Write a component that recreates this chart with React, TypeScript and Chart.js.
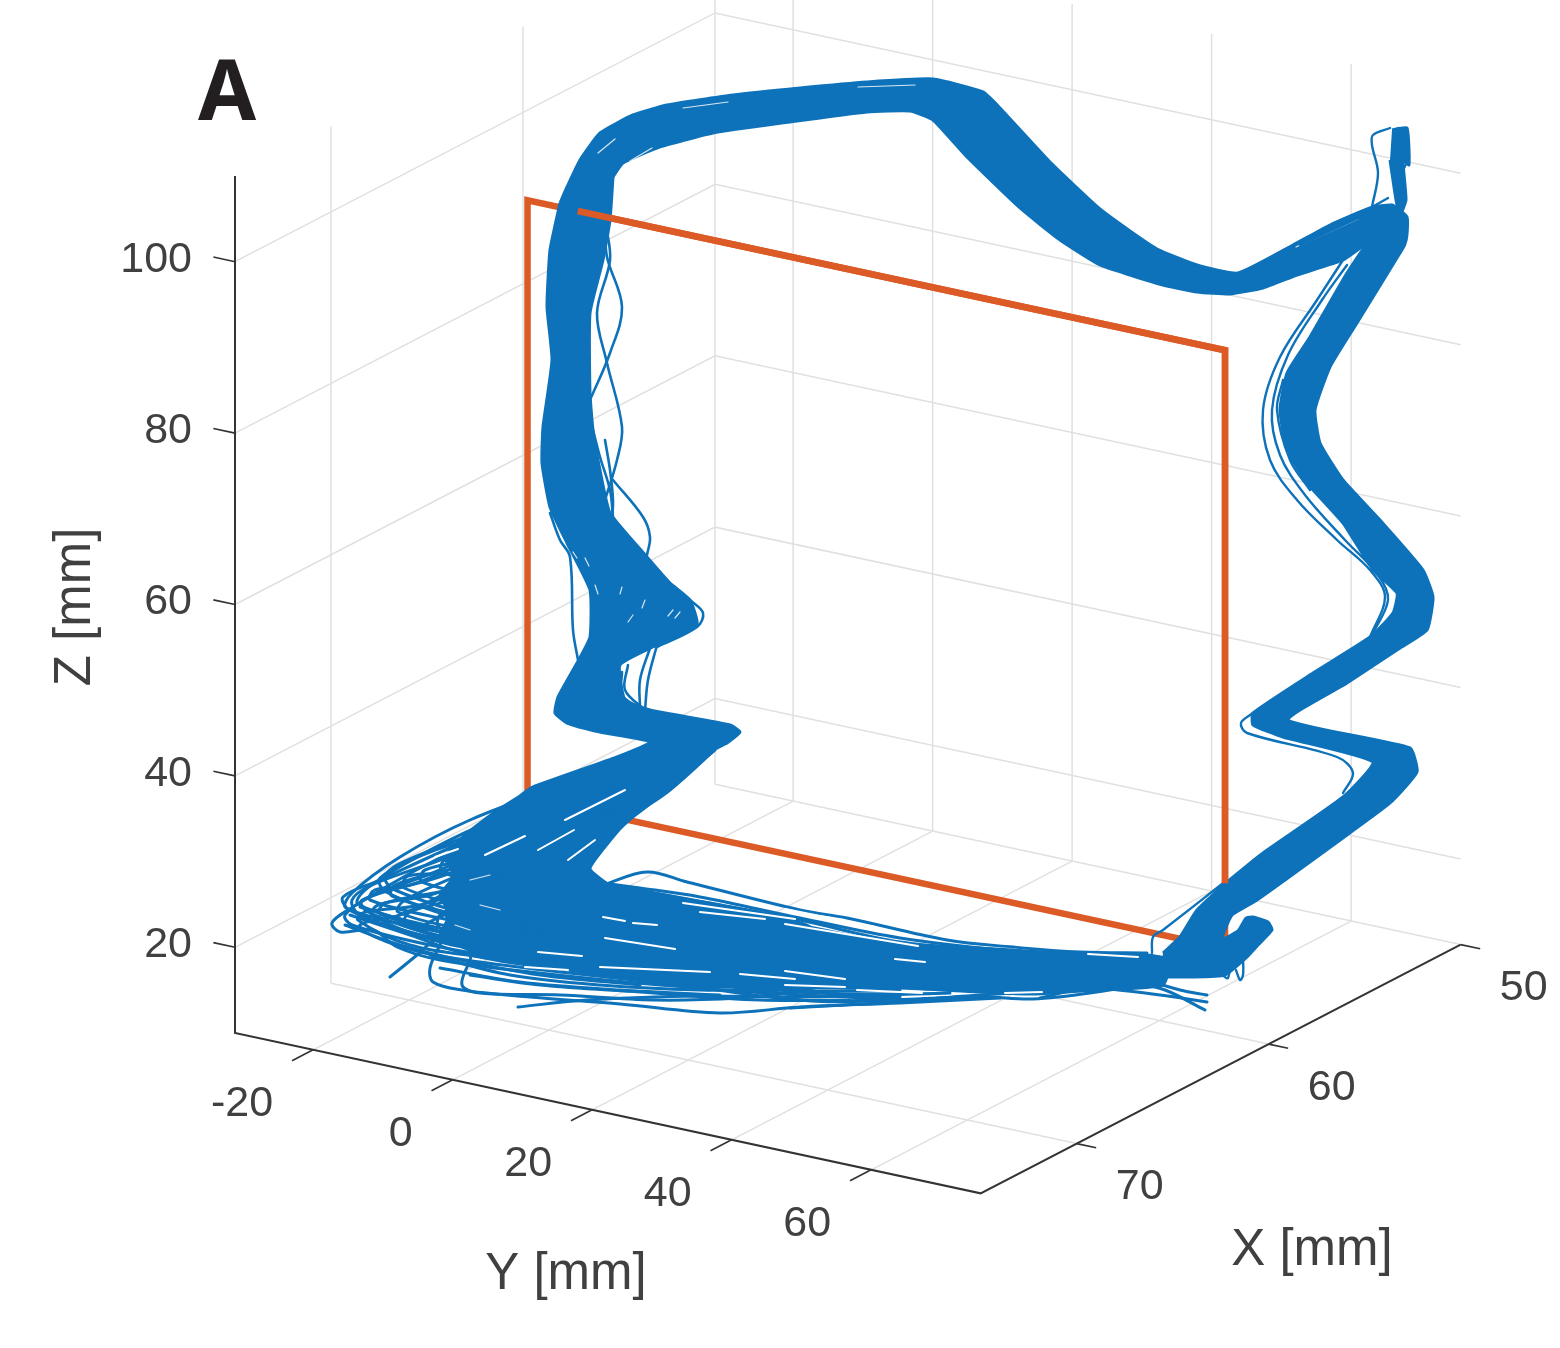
import React, { useEffect, useRef } from "react";
import { Chart, registerables } from "chart.js";

Chart.register(...registerables);

// ---- axis values (mm) ----
const xTicks = [50, 60, 70];
const yTicks = [-20, 0, 20, 40, 60];
const zTicks = [20, 40, 60, 80, 100];
const xRange = [50, 75];
const yRange = [-31.2, 75.7];
const zRange = [10, 110];
// target frame, in mm
const frameX = 60.2;
const frameY = [-30, 70];
const frameZ = [20.4, 90.2];
const frameFrontFromY = -22.8;

// ---- the 3-D view of the box ----
const view = { x0: 235, y0: 1033, yx: 6.975, yy: 1.5, xx: 19.2, xy: 9.95, zy: 8.57 };
const project = (X: number, Y: number, Z: number) => ({
  x: view.x0 + view.yx * (Y - yRange[0]) + view.xx * (xRange[1] - X),
  y: view.y0 + view.yy * (Y - yRange[0]) - view.xy * (xRange[1] - X) - view.zy * (Z - zRange[0]),
});

// ---- trajectories: a single view gives no depth,
//      so they are kept as view-plane pairs (horizontal, vertical) ----
const bandTop = [560,203,567,187,580,160,600,133,633,115,667,105,733,95,800,88,867,82,933,79,983,92,1000,108,1050,162,1100,209,1130,231,1157,249,1197,265,1238,273,1293,245,1330,225,1370,208,1392,205,1407,217,1405,243,1373,240,1343,260,1297,275,1263,288,1230,294,1197,292,1163,285,1130,275,1100,265,1060,240,1020,208,967,157,933,120,910,111,867,112,790,122,713,133,657,148,623,163,613,177,590,215];
const bandLeft = [560,203,550,250,547,307,552,360,543,427,542,463,550,507,567,543,590,590,590,637,577,663,558,697,555,713,567,723,600,732,650,742,617,757,533,787,520,797,560,810,627,820,713,750,727,743,740,732,730,725,650,710,625,700,620,665,657,645,697,625,690,600,670,583,647,557,610,513,600,470,593,430,590,393,590,313,603,260,610,220,613,177];
const bandRight = [1163,953,1180,937,1197,910,1227,882,1263,853,1343,797,1373,762,1283,737,1253,725,1253,713,1313,673,1370,637,1393,613,1397,593,1373,570,1343,523,1307,483,1287,450,1280,410,1287,373,1310,337,1347,273,1373,238,1405,243,1400,253,1357,323,1330,367,1315,410,1320,443,1343,480,1380,520,1423,570,1433,597,1427,630,1397,650,1347,683,1288,720,1410,748,1417,772,1390,803,1347,835,1257,900,1232,915,1222,939,1238,931,1246,918,1253,917,1268,922,1272,930,1258,945,1246,958,1225,975,1190,977,1160,977];
const bandBottom = [800,925,900,945,960,947,1013,950,1080,954,1147,955,1170,960,1163,985,1097,990,1033,994,980,992,900,988,800,988];
const bandFan = [533,788,495,812,465,835,445,858,455,875,440,895,450,915,440,935,470,950,520,960,600,975,680,985,760,988,810,988,810,927,720,905,660,895,610,885,590,868,627,820];
const tuftTop = [1392,130,1407,128,1409,165,1403,160,1406,200,1400,215,1396,200,1390,160];

const fanTraces = [
  [655,760,560,787,470,820,400,857,352,893,346,908,420,935,520,952,650,968,800,982],
  [665,760,570,792,480,826,412,860,365,890,358,904,430,926,530,946,660,962,800,975],
  [675,758,585,795,495,832,420,868,348,910,332,923,340,932,373,930,397,947,440,960,530,972,660,985,800,995,900,998],
  [680,758,595,795,505,830,430,852,380,878,386,892,470,922,570,942,680,958,800,970],
  [685,755,600,797,510,838,435,872,372,896,345,915,352,925,430,945,530,962,660,978,800,990],
  [690,755,605,800,520,842,445,875,362,900,368,912,450,940,550,958,670,972,800,985],
  [695,752,610,803,530,845,455,868,395,885,392,896,480,920,580,938,690,950,800,962],
  [700,750,615,806,540,848,465,872,408,876,404,888,490,912,590,930,700,942,800,955],
  [700,755,620,808,545,852,470,885,385,903,380,914,470,938,575,955,690,968,800,980],
  [705,750,625,806,550,838,480,858,425,870,422,882,505,902,600,922,700,935,800,948],
  [708,748,630,802,560,832,495,852,445,860,442,872,520,892,610,912,710,925,800,940],
  [690,760,615,815,540,862,470,895,410,912,405,924,480,945,590,965,700,978,800,992,900,994],
  [700,758,620,820,550,868,480,900,425,925,430,935,510,950,610,968,710,982,800,1000,880,1001,980,996],
  [710,752,630,815,565,858,510,880,450,905,448,918,530,935,630,950,730,965,800,972],
  [715,750,640,810,580,845,530,870,475,890,472,902,550,920,650,935,740,950,800,958],
  [715,745,650,795,600,835,560,860,505,878,503,890,580,905,670,920,750,935,800,944],
  [720,740,660,790,620,825,585,852,540,868,545,880,620,895,700,910,760,920,800,928,900,946],
  [720,745,670,790,625,822,580,870,590,880,650,892,720,905,800,920,900,942,1000,950],
  [650,775,555,830,470,880,400,915,360,925,375,937,420,952,480,962,560,972,680,985,800,1000,880,1000,960,997],
  [660,775,570,830,490,880,420,905,365,912,358,920,410,945,490,958,590,972,700,982,800,995,900,996],
  [672,770,580,825,500,870,430,895,378,905,372,915,440,942,520,955,620,968,730,978,800,985],
  [640,780,550,820,470,860,410,885,375,890,370,900,440,918,540,935,650,952,800,968],
  [690,760,600,830,500,900,440,935,417,955,390,977],
  [680,765,590,835,510,890,450,925,440,945,430,968,433,982,462,990,530,997,620,1004,720,1013,800,1007,900,1003,1000,998],
  [700,760,610,830,530,895,480,930,470,960,462,985,480,993,560,995,653,1000,740,998,800,992,900,990],
  [518,1007,587,1000,700,996,800,997,950,993],
  [603,885,647,872,687,882,800,910,847,918,947,940,1013,947,1080,952,1147,953],
  [580,880,640,888,700,897,800,918,900,938,1000,950,1100,957],
  [560,895,620,905,700,912,790,930,880,948,1000,960],
  [780,985,880,1000,980,995,1060,990,1120,985],
  [790,1008,880,1003,980,997,1033,999,1097,992,1147,983],
  [760,975,860,985,960,985,1060,985],
  [1040,998,1100,985,1140,985,1165,990,1205,1010],
  [1100,988,1160,995,1207,1002],
  [1130,975,1180,990,1207,995],
  [610,790,530,810,470,835,397,865,385,878,395,890,470,915,560,935,650,945],
  [600,795,520,820,450,848,380,880,343,897,350,910,430,930,520,945,620,958],
  [595,800,510,830,440,860,372,885,352,900,360,915,440,940,520,958,610,975],
  [620,800,540,835,470,870,405,900,398,912,475,932,560,948,640,960],
  [625,810,560,850,500,880,440,898,432,908,505,925,600,945],
  [615,815,550,855,490,890,440,915,440,928,520,942,620,955],
  [630,805,575,840,520,870,470,878,465,890,540,905,630,925],
  [600,825,540,870,495,900,480,915,560,930,650,945],
  [635,815,590,855,550,885,510,905,515,918,590,932,680,945],
  [345,925,400,945,460,960,540,975,640,985],
  [350,915,410,935,470,955,550,968,650,978],
  [360,907,420,925,480,945,560,960,650,972],
  [430,955,510,975,600,985,700,990,800,990],
  [440,968,520,982,620,990,720,995],
  [470,975,540,985,640,992,760,1000,850,1000],
];
const columnTraces = [
  [605,225,607,257,622,307,610,353,590,400],
  [606,225,610,260,597,313,607,363,622,427,617,460,605,500],
  [613,480,643,517,650,537,647,555],
  [550,513,560,540,570,557,573,630,578,660],
  [657,645,648,680,645,710],
  [650,648,640,680,640,708],
  [628,665,625,690,645,710],
  [622,672,622,695,640,708],
  [593,430,600,457,610,490,613,517],
  [605,440,610,470,613,500,612,520],
  [690,600,703,613,697,627,657,647],
];
const rightTraces = [
  [1343,260,1317,300,1280,357,1263,410,1270,460,1297,500,1337,540,1370,570,1385,597,1370,637],
  [1347,265,1322,300,1288,355,1272,410,1280,455,1305,495,1345,540,1378,575,1388,600,1372,635],
  [1283,380,1277,410,1290,460,1310,490],
  [1253,713,1241,723,1247,733,1337,757,1353,773,1343,793],
  [1227,880,1163,930,1153,937,1152,953],
  [1388,198,1370,208,1293,245],
  [1392,205,1370,213,1300,245],
  [1372,207,1378,173,1372,145,1373,135,1390,128],
  [1243,957,1243,975,1240,980,1236,970],
  [1230,960,1228,978,1222,975],
  [1398,128,1396,150,1404,135,1402,160,1408,145,1398,175,1402,205],
  [1406,128,1400,138,1409,155,1403,172,1405,190],
];
// places inside the bundles where the lines leave the paper showing
const gapTraces = [
  [485,855,525,836],[435,857,458,849],[565,820,625,790],[538,850,574,830],[568,860,595,840],
  [605,938,675,949],[603,917,625,921],[633,923,657,925],[683,903,795,919],[700,912,765,919],
  [740,974,795,979],[600,967,710,972],[538,952,582,956],[525,967,568,970],
  [785,924,918,946],[785,909,875,927],[857,990,922,993],[785,971,845,979],[785,985,845,987],
  [1005,993,1042,992],[895,959,925,962],[1088,954,1138,957],
];
const fineGapTraces = [
  [622,587,620,594],[645,600,642,608],[633,615,628,622],[673,610,668,616],[680,612,675,618],[595,585,598,594],[585,558,589,566],[573,552,577,558],
  [683,108,728,102],[858,87,915,85],[598,153,615,139],[630,161,652,148],[1296,247,1358,219],
  [480,905,500,910],[455,925,470,930],[470,880,490,875],
];

const BLUE = "#0d72ba";
const RED = "#dc5a26";
const GRID = "#e0e0e0";
const AXIS = "#333333";
const TEXT = "#404040";

const toPts = (a: number[]) => {
  const out: { x: number; y: number }[] = [];
  for (let i = 0; i < a.length; i += 2) out.push({ x: a[i], y: a[i + 1] });
  return out;
};
const seg = (pts: { x: number; y: number }[], color: string, width: number) => ({
  data: pts, borderColor: color, borderWidth: width, tension: 0, showLine: true, pointRadius: 0, fill: false,
  borderCapStyle: "butt" as const,
});
const trace = (a: number[], width: number, color = BLUE) => ({ ...seg(toPts(a), color, width), tension: 0.35, borderCapStyle: "round" as const });
const ribbon = (a: number[]) => ({
  ...seg(toPts(a), BLUE, 3), tension: 0.15, fill: "shape" as const, backgroundColor: BLUE,
});

function buildDatasets() {
  const [x0, x1] = xRange, [y0, y1] = yRange, [z0, z1] = zRange;
  const grid: any[] = [];
  for (const t of xTicks) {
    grid.push(seg([project(t, y0, z0), project(t, y1, z0)], GRID, 1.5));
    grid.push(seg([project(t, y0, z0), project(t, y0, z1)], GRID, 1.5));
  }
  for (const t of yTicks) {
    grid.push(seg([project(x1, t, z0), project(x0, t, z0)], GRID, 1.5));
    grid.push(seg([project(x0, t, z0), project(x0, t, z1)], GRID, 1.5));
  }
  for (const t of zTicks) {
    grid.push(seg([project(x1, y0, t), project(x0, y0, t), project(x0, y1, t)], GRID, 1.5));
  }
  const axes: any[] = [
    seg([project(x1, y0, z1), project(x1, y0, z0), project(x1, y1, z0), project(x0, y1, z0)], AXIS, 2),
  ];
  for (const t of zTicks) axes.push(seg([project(x1, y0, t), project(x1, y0 - 3.1, t)], AXIS, 1.6));
  for (const t of yTicks) axes.push(seg([project(x1, t, z0), project(x1 + 1.1, t, z0)], AXIS, 1.6));
  for (const t of xTicks) axes.push(seg([project(t, y1, z0), project(t, y1 + 2.8, z0)], AXIS, 1.6));

  const fx = frameX, [fy0, fy1] = frameY, [fz0, fz1] = frameZ;
  const frame = seg(
    [project(fx, fy0, fz0), project(fx, fy0, fz1), project(fx, fy1, fz1), project(fx, fy1, fz0), project(fx, fy0, fz0)],
    RED, 6.5,
  );
  const frameFront = seg([project(fx, frameFrontFromY, fz1), project(fx, fy1, fz1), project(fx, fy1, 28)], RED, 6.5);

  // the first dataset is painted last, so it is on top
  return [
    frameFront,
    ...rightTraces.map((a) => trace(a, 2.4)),
    ...columnTraces.map((a) => trace(a, 2.6)),
    ...gapTraces.map((a) => trace(a, 2, "#ffffff")),
    ...fineGapTraces.map((a) => trace(a, 1.2, "#d6e6f2")),
    ...fanTraces.map((a) => trace(a, 3)),
    ribbon(tuftTop),
    ribbon(bandTop),
    ribbon(bandLeft),
    ribbon(bandRight),
    ribbon(bandBottom),
    ribbon(bandFan),
    frame,
    ...axes,
    ...grid,
  ];
}

const textPlugin = {
  id: "boxText",
  afterDraw(chart: any) {
    const { ctx, scales } = chart;
    const px = (p: { x: number; y: number }) => ({ x: scales.x.getPixelForValue(p.x), y: scales.y.getPixelForValue(p.y) });
    ctx.save();
    ctx.fillStyle = TEXT;
    ctx.textBaseline = "middle";
    ctx.font = '43px "Liberation Sans"';
    ctx.textAlign = "right";
    for (const t of zTicks) {
      const p = px(project(xRange[1], yRange[0], t));
      ctx.fillText(String(t), p.x - 43, p.y - 2);
    }
    for (const t of yTicks) {
      const p = px(project(xRange[1], t, zRange[0]));
      ctx.fillText(String(t), p.x - 40, p.y + 54);
    }
    ctx.textAlign = "center";
    for (const t of xTicks) {
      const p = px(project(t, yRange[1], zRange[0]));
      ctx.fillText(String(t), p.x + 63, p.y + 44);
    }
    ctx.font = '51px "Liberation Sans"';
    ctx.fillText("Y [mm]", 566, 1275);
    ctx.fillText("X [mm]", 1312, 1251);
    ctx.save();
    ctx.translate(76, 607);
    ctx.rotate(-Math.PI / 2);
    ctx.fillText("Z [mm]", 0, 0);
    ctx.restore();
    ctx.fillStyle = "#231f20";
    ctx.font = 'bold 84px "Noto Sans"';
    ctx.fillText("A", 227, 96);
    ctx.restore();
  },
};

export default function App() {
  const ref = useRef<HTMLCanvasElement>(null);
  useEffect(() => {
    document.body.style.margin = "0";
    const chart = new Chart(ref.current as HTMLCanvasElement, {
      type: "scatter",
      data: { datasets: buildDatasets() as any },
      options: {
        animation: false,
        responsive: false,
        devicePixelRatio: 1,
        layout: { padding: 0 },
        plugins: { legend: { display: false }, tooltip: { enabled: false } },
        scales: {
          x: { type: "linear", min: 0, max: 1560, display: false },
          y: { type: "linear", min: 0, max: 1348, reverse: true, display: false },
        },
      },
      plugins: [textPlugin],
    });
    return () => chart.destroy();
  }, []);
  return <canvas ref={ref} width={1560} height={1348} style={{ display: "block", width: 1560, height: 1348 }} />;
}
